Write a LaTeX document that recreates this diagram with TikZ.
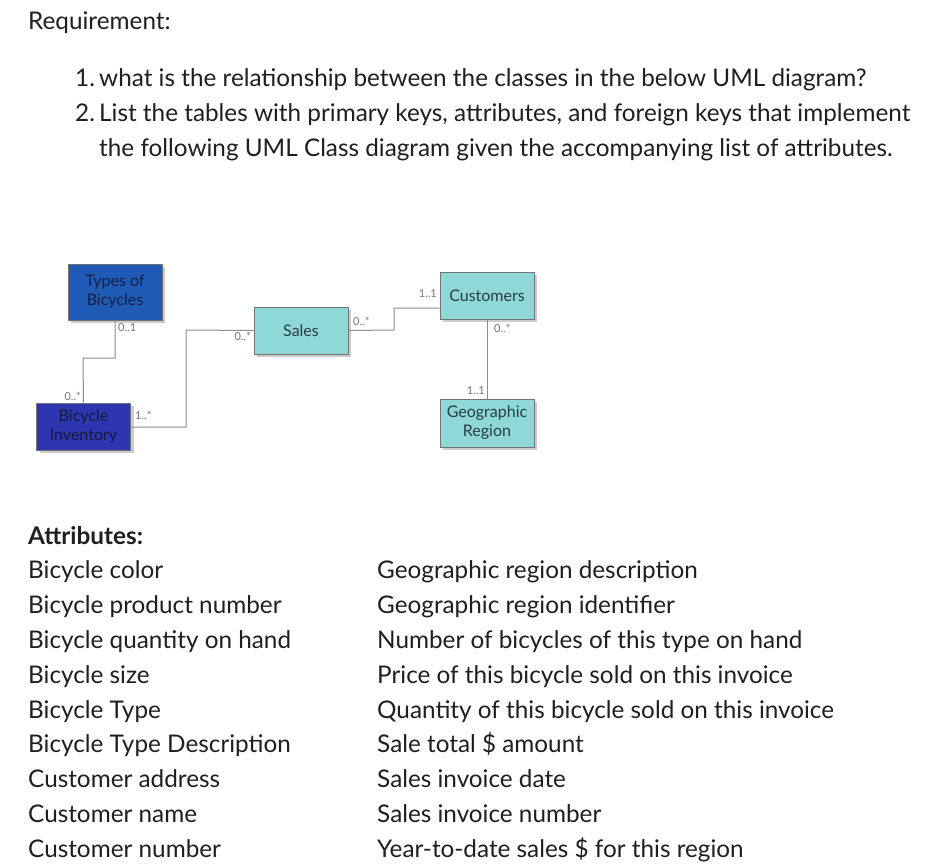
\documentclass[tikz,border=0pt]{standalone}
\usepackage{fontspec}
\setmainfont{Lato}
\usetikzlibrary{shadows}
\begin{document}
\begin{tikzpicture}[x=1pt,y=-1pt,
  txt/.style={anchor=base west,inner sep=0pt,font=\fontsize{24.3}{28}\selectfont,text=black!88},
  cls/.style={draw=black!55,line width=1pt,minimum width=94pt,align=center,font=\fontsize{16}{19}\selectfont,inner sep=0pt,drop shadow={shadow xshift=3pt,shadow yshift=-3pt,fill=black!40}},
  mult/.style={font=\fontsize{11}{12}\selectfont,text=black!55,inner sep=1pt},
  link/.style={draw=black!45,line width=1pt}]
\useasboundingbox (0,0) rectangle (950,863);
\fill[white] (0,0) rectangle (950,863);
\node[txt] (req) at (28,29) {Requirement:};
\node[txt] (n1) at (75,86) {1.};
\node[txt] (t1) at (99,86) {what is the relationship between the classes in the below UML diagram?};
\node[txt] (n2) at (75,121) {2.};
\node[txt] (t2) at (99,121) {List the tables with primary keys, attributes, and foreign keys that implement};
\node[txt] (t3) at (99,156) {the following UML Class diagram given the accompanying list of attributes.};
% classes
\node[cls,fill={rgb,255:red,31;green,91;blue,181},text={rgb,255:red,20;green,30;blue,70},minimum height=56pt] (tb) at (115,292) {Types of\\Bicycles};
\node[cls,fill={rgb,255:red,46;green,53;blue,176},text={rgb,255:red,20;green,25;blue,60},minimum height=47pt] (bi) at (83.5,426.5) {Bicycle\\Inventory};
\node[cls,fill={rgb,255:red,142;green,216;blue,216},text={rgb,255:red,40;green,60;blue,70},minimum height=47pt] (sa) at (301,330.5) {Sales};
\node[cls,fill={rgb,255:red,142;green,216;blue,216},text={rgb,255:red,40;green,60;blue,70},minimum height=47pt] (cu) at (487,295.5) {Customers};
\node[cls,fill={rgb,255:red,142;green,216;blue,216},text={rgb,255:red,40;green,60;blue,70},minimum height=48pt] (gr) at (487,423) {Geographic\\Region};
\draw[link] (tb.south) -- (115,358) -- (83,358) -- (bi.north);
\draw[link] (bi.east |- 0,427) -- (186,427) -- (186,330) -- (sa.west);
\draw[link] (sa.east) -- (394,330) -- (394,308) -- (cu.west |- 0,308);
\draw[link] (cu.south) -- (gr.north);
\node[mult,anchor=north west] (m1) at (117,322) {0..1};
\node[mult,anchor=south east] (m2) at (82,402) {0..*};
\node[mult,anchor=south west] (m3) at (134,421) {1..*};
\node[mult,anchor=north east] (m4) at (252,331) {0..*};
\node[mult,anchor=south west] (m5) at (352,327) {0..*};
\node[mult,anchor=south east] (m6) at (438,299) {1..1};
\node[mult,anchor=north west] (m7) at (493,323) {0..*};
\node[mult,anchor=south east] (m8) at (486,396) {1..1};
% attributes
\node[txt,font=\bfseries\fontsize{24.3}{28}\selectfont] (at) at (28,544) {Attributes:};
\foreach \t [count=\i] in {Bicycle color,Bicycle product number,Bicycle quantity on hand,Bicycle size,Bicycle Type,Bicycle Type Description,Customer address,Customer name,Customer number}
  \node[txt] (a\i) at (28,544+34.8*\i) {\t};
\foreach \t [count=\i] in {Geographic region description,Geographic region identifier,Number of bicycles of this type on hand,Price of this bicycle sold on this invoice,Quantity of this bicycle sold on this invoice,Sale total \$ amount,Sales invoice date,Sales invoice number,Year-to-date sales \$ for this region}
  \node[txt] (b\i) at (377,544+34.8*\i) {\t};
\end{tikzpicture}
\end{document}
